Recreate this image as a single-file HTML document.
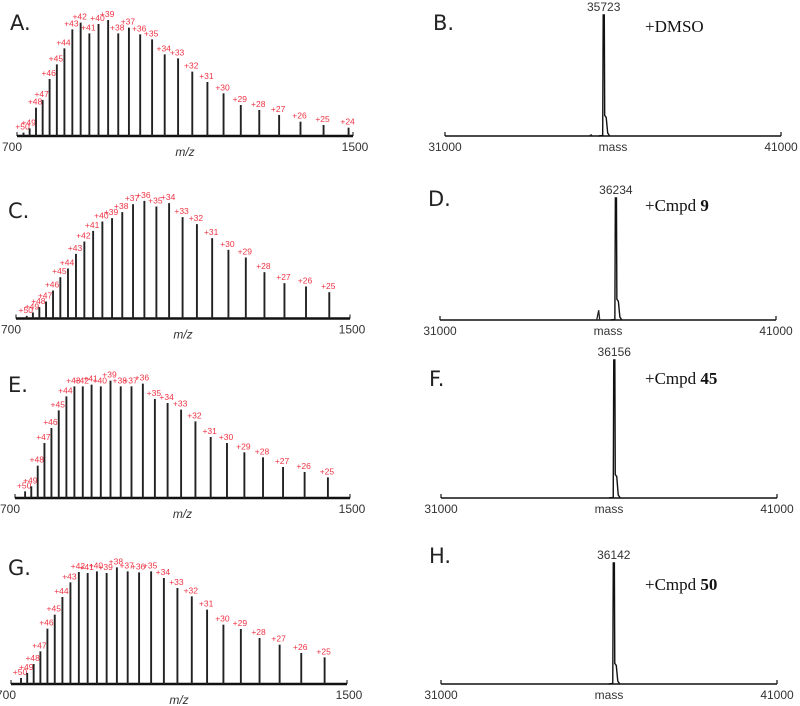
<!DOCTYPE html>
<html><head><meta charset="utf-8">
<style>
html,body{margin:0;padding:0;background:#fff;}
svg{display:block;}
.lab{font-family:"DejaVu Sans","Liberation Sans",sans-serif;font-size:21px;fill:#222;}
.tick{font-family:"Liberation Sans",sans-serif;font-size:12px;fill:#333;}
.chg{font-family:"Liberation Sans",sans-serif;font-size:8.5px;fill:#ee3344;}
.cond{font-family:"Liberation Serif",serif;font-size:17px;fill:#111;}
</style></head>
<body>
<svg id="fig" width="800" height="706" viewBox="0 0 800 706"></svg>
<script>
// ---- Data (charge-state spectra) ----
const chargesA = [50,49,48,47,46,45,44,43,42,41,40,39,38,37,36,35,34,33,32,31,30,29,28,27,26,25,24];
const heightsA = [10,23,85,108,171,215,263,320,340,308,336,348,308,325,305,290,245,233,193,162,128,93,78,63,43,33,25];
const massA = 35723;
const chargesC = [50,49,48,47,46,45,44,43,42,41,40,39,38,37,36,35,34,33,32,31,30,29,28,27,26,25];
const heightsC = [8,18,34,51,84,124,150,194,231,263,291,301,319,343,353,336,346,304,283,241,206,183,139,106,96,79];
const massC = 36234;
const chargesE = [50,49,48,47,46,45,44,43,42,41,40,39,38,37,36,35,34,33,32,31,30,29,28,27,26,25];
const heightsE = [20,35,97,165,210,263,305,335,335,340,335,352,335,335,343,297,285,265,230,183,165,137,122,93,78,62];
const massE = 36156;
const chargesG = [50,49,48,47,46,45,44,43,42,41,40,39,38,37,36,35,34,33,32,31,30,29,28,27,26,25];
const heightsG = [18,33,60,98,166,208,261,305,336,333,338,333,350,338,335,338,318,288,263,223,178,165,138,118,93,80];
const massG = 36142;
// ---- Deconvoluted masses ----
const decoMassB = [35723]; const decoHB = [100]; const minorMassB = [35350]; const minorHB = [1];
const decoMassD = [36234]; const decoHD = [100]; const minorMassD = [35723]; const minorHD = [8];
const decoMassF = [36156]; const decoHF = [100]; const minorMassF = []; const minorHF = [];
const decoMassH = [36142]; const decoHH = [100]; const minorMassH = []; const minorHH = [];
const condB = ["+DMSO",""]; const condD = ["+Cmpd ","9"]; const condF = ["+Cmpd ","45"]; const condH = ["+Cmpd ","50"];

const NS = "http://www.w3.org/2000/svg";
const svg = document.getElementById("fig");
function mk(tag, attrs, parent){
  const e = document.createElementNS(NS, tag);
  for (const k in attrs) e.setAttribute(k, attrs[k]);
  (parent||svg).appendChild(e);
  return e;
}
function txt(s, x, y, cls, anchor, parent){
  const t = mk("text",{x:x,y:y,class:cls,"text-anchor":anchor||"start"},parent);
  t.textContent = s; return t;
}

function spectrum(id, letter, charges, heights, mass, g){
  const grp = mk("g",{});
  
  
  const xS = mz => g.x0 + (mz - 700) / 800 * (g.x1 - g.x0);
  const yS = h => g.base - h / 3;
  const L = txt(letter, g.lx, g.ly, "lab", "start", grp);
  
  
  const ax = mk("line",{x1:g.x0,y1:g.base,x2:g.x1,y2:g.base,stroke:"#111","stroke-width":2.4},grp);
  
  
  mk("line",{x1:g.x0,y1:g.base-4,x2:g.x0,y2:g.base,stroke:"#111","stroke-width":1},grp);
  mk("line",{x1:g.x1,y1:g.base-4,x2:g.x1,y2:g.base,stroke:"#111","stroke-width":1},grp);
  const t1 = txt("700", g.x0-5, g.base+15, "tick", "middle", grp);
  
  
  const t2 = txt("1500", g.x1+2, g.base+15, "tick", "middle", grp);
  
  
  const xt = txt("m/z", (g.x0+g.x1)/2, g.base+20, "tick", "middle", grp);
  xt.setAttribute('font-style','italic');
  
  
  for (let i = 0; i < charges.length; i++){
    const z = charges[i];
    const mz = (mass + z * 1.007) / z;
    const x = xS(mz), y = yS(heights[i]);
    const p = mk("line",{x1:x,y1:g.base,x2:x,y2:y,stroke:"#222","stroke-width":1.9},grp);
    
    
    const lb = txt("+" + z, x - 1, y - 3, "chg", "middle", grp);
    
    
  }
}

function deconv(id, letter, masses, hs, minM, minH, cond, g){
  const grp = mk("g",{});
  
  
  const xS = m => g.x0 + (m - 31000) / 10000 * (g.x1 - g.x0);
  const yS = h => g.base - h / 100 * g.h;
  const L = txt(letter, g.x0 - 12, g.ly, "lab", "start", grp);
  
  
  const ax = mk("line",{x1:g.x0,y1:g.base,x2:g.x1,y2:g.base,stroke:"#111","stroke-width":1.5},grp);
  
  
  mk("line",{x1:g.x0,y1:g.base-4,x2:g.x0,y2:g.base,stroke:"#111","stroke-width":1.2},grp);
  mk("line",{x1:g.x1,y1:g.base-4,x2:g.x1,y2:g.base,stroke:"#111","stroke-width":1.2},grp);
  const a = txt("31000", g.x0, g.base+15, "tick", "middle", grp);
  
  
  const b = txt("mass", (g.x0+g.x1)/2, g.base+15, "tick", "middle", grp);
  
  
  const c = txt("41000", g.x1, g.base+15, "tick", "middle", grp);
  
  
  for (let i = 0; i < minM.length; i++){
    const x = xS(minM[i]), y = yS(minH[i]);
    const m = mk("path",{d:`M${x-2},${g.base} L${x},${y} L${x+1},${g.base}`,fill:"none",stroke:"#222","stroke-width":1.3},grp);
    
    
  }
  for (let i = 0; i < masses.length; i++){
    const x = xS(masses[i]), y = yS(hs[i]);
    const sh = g.base - (g.base - y) * 0.17;
    const d = `M${x-5},${g.base} L${x-1},${g.base-0.5} L${x-0.5},${y} L${x+0.6},${y} L${x+1},${sh} L${x+2.5},${sh+2} L${x+4},${g.base-3} L${x+6},${g.base}`;
    const p = mk("path",{d:d,fill:"none",stroke:"#111","stroke-width":1.4},grp);
    
    
    const l = txt(String(masses[i]), x, y - 4, "tick", "middle", grp);
    
    
  }
  const ct = mk("text",{x:g.cx,y:g.cy,class:"cond"},grp);
  
  
  const s1 = mk("tspan",{},ct); s1.textContent = cond[0];
  const s2 = mk("tspan",{"font-weight":"bold"},ct); s2.textContent = cond[1];
}

spectrum("a","A.",chargesA,heightsA,massA,{x0:17,x1:353,base:136,lx:10,ly:30});
spectrum("c","C.",chargesC,heightsC,massC,{x0:16,x1:350,base:318.5,lx:8,ly:218});
spectrum("e","E.",chargesE,heightsE,massE,{x0:15,x1:350,base:498,lx:8,ly:392});
spectrum("g","G.",chargesG,heightsG,massG,{x0:11,x1:347,base:684,lx:8,ly:575});

deconv("b","B.",decoMassB,decoHB,minorMassB,minorHB,condB,{x0:445,x1:781,base:136,h:121,ly:30,cx:645,cy:32});
deconv("d","D.",decoMassD,decoHD,minorMassD,minorHD,condD,{x0:440,x1:776,base:320,h:122,ly:206,cx:645,cy:211});
deconv("f","F.",decoMassF,decoHF,minorMassF,minorHF,condF,{x0:441,x1:777,base:498,h:138,ly:386,cx:645,cy:384});
deconv("h","H.",decoMassH,decoHH,minorMassH,minorHH,condH,{x0:441,x1:777,base:684,h:121,ly:563,cx:645,cy:590});
</script>
</body></html>
